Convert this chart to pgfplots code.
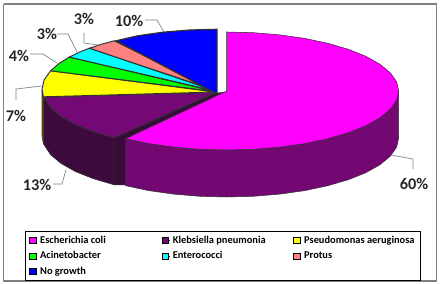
\documentclass[border=0pt]{standalone}
\usepackage{pgfplots}
\pgfplotsset{compat=1.18}
\usepackage{fontspec}
\setmainfont{Carlito}
\definecolor{mg}{HTML}{FF00FF}
\definecolor{mgwall}{HTML}{730873}
\definecolor{pu}{HTML}{740874}
\definecolor{puwall}{HTML}{3E0A3E}
\definecolor{puface}{HTML}{3A0A3A}
\definecolor{ye}{HTML}{FFFF00}
\definecolor{gr}{HTML}{00FF00}
\definecolor{cy}{HTML}{00FFFF}
\definecolor{sa}{HTML}{FF8080}
\definecolor{bl}{HTML}{0000FF}
\definecolor{edge}{HTML}{303030}
\definecolor{lead}{HTML}{808080}
\begin{document}
\begin{tikzpicture}
\useasboundingbox (0,0) rectangle (330pt,213pt);
\begin{axis}[
  scale only axis, width=330pt, height=213pt,
  xmin=0, xmax=440, ymin=0, ymax=284, y dir=reverse,
  hide axis, clip=false,
  legend columns=3,
  legend cell align=left,
  legend style={at={(0.0568,0.1866)}, anchor=north west, draw=black, line width=0.6pt,
    font=\fontsize{7.8}{9}\selectfont\bfseries, inner xsep=2.6pt, inner ysep=1.5pt,
    row sep=0.6pt, /tikz/every even column/.append style={column sep=0pt}},
  legend image code/.code={\path (0pt,0pt) -- (5.6pt,0pt); \draw[#1,draw=black,line width=0.5pt] (0pt,-2.2pt) rectangle (4.8pt,2.4pt);},
]
% walls
\addplot[forget plot, fill=puwall, draw=edge, line width=0.4pt] coordinates {
 (114.1,137.8)(93.3,131.7)(75.4,124.6)(61.1,116.5)(50.6,107.8)(43.4,96.8)
 (43.4,143.8)(50.6,154.8)(61.1,163.5)(75.4,171.6)(93.3,178.7)(114.1,184.8)} --cycle;
\addplot[forget plot, fill=ye!40!black, draw=edge, line width=0.4pt] coordinates {
 (43.4,96.8)(42,89.3)(42,136.3)(43.4,143.8)} --cycle;
\addplot[forget plot, fill=puface, draw=edge, line width=0.4pt] coordinates {
 (114.1,137.8)(214,93.5)(226,92)(226,140)(126,185)(114.1,184.8)} --cycle;
\addplot[forget plot, fill=mgwall, draw=edge, line width=0.4pt] coordinates {
 (398.7,91)(396.6,100.2)(390.3,109.2)(379.9,117.8)(365.8,125.7)(348.3,132.7)(327.8,138.7)(304.8,143.6)
 (279.8,147.1)(253.5,149.3)(226.7,150)(199.9,149.3)(173.6,147.1)(148.6,143.6)(125.6,138.7)
 (125.6,185.7)(148.6,190.6)(173.6,194.1)(199.9,196.3)(226.7,197)(253.5,196.3)(279.8,194.1)(304.8,190.6)
 (327.8,185.7)(348.3,179.7)(365.8,172.7)(379.9,164.8)(390.3,156.2)(396.6,147.2)(398.7,138)} --cycle;
% tops: 60, 13, 7, 4, 3, 3, 10 per cent
\addplot[fill=mg, draw=edge, line width=0.4pt] coordinates {
 (226.7,91)(226.7,32)(253.5,32.7)(279.8,34.9)(304.8,38.4)(327.8,43.3)(348.3,49.3)(365.8,56.3)(379.9,64.2)
 (390.3,72.8)(396.6,81.8)(398.7,91)(396.6,100.2)(390.3,109.2)(379.9,117.8)(365.8,125.7)(348.3,132.7)
 (327.8,138.7)(304.8,143.6)(279.8,147.1)(253.5,149.3)(226.7,150)(199.9,149.3)(173.6,147.1)(148.6,143.6)(125.6,138.7)} --cycle;
\addlegendentry{\makebox[89.2pt][l]{Escherichia coli}}
\addplot[fill=pu, draw=edge, line width=0.6pt] coordinates {
 (215,92.5)(114.1,137.8)(93.3,131.7)(75.4,124.6)(61.1,116.5)(50.6,107.8)(43.4,96.8)} --cycle;
\addlegendentry{\makebox[88.2pt][l]{Klebsiella pneumonia}}
\addplot[fill=ye, draw=edge, line width=0.7pt] coordinates {
 (215,92)(43.4,96.8)(42,89.3)(44.1,79.9)(50.6,70.8)} --cycle;
\addlegendentry{Pseudomonas aeruginosa}
\addplot[fill=gr, draw=edge, line width=0.7pt] coordinates {
 (215,91.5)(50.6,70.8)(58.5,63.9)(69.3,57.1)} --cycle;
\addlegendentry{Acinetobacter}
\addplot[fill=cy, draw=edge, line width=0.7pt] coordinates {
 (215.5,91)(69.3,57.1)(79.1,52.3)(89.4,48.2)} --cycle;
\addlegendentry{Enterococci}
\addplot[fill=sa, draw=edge, line width=0.7pt] coordinates {
 (216,90.5)(89.4,48.2)(101.3,44.3)(114.1,40.8)} --cycle;
\addlegendentry{Protus}
\addplot[fill=bl, draw=edge, line width=0.9pt] coordinates {
 (217,94)(116,40.8)(137.6,35.8)(162.9,32.2)(189.7,30)(217,29.3)} --cycle;
\addlegendentry{No growth}
% leaders
\foreach \p in {
 {(391,155)(413,159)(413,169)},
 {(53,184)(62,184)(66,170)},
 {(16,100)(16,89)(41.7,86)},
 {(30,54)(43,54)(57,63)},
 {(57,34)(68,34)(77,52)},
 {(84,33)(84,43)(98,45)},
 {(145,20)(157,20)(164,32)}} {
  \edef\temp{\noexpand\addplot[forget plot, draw=lead, line width=0.5pt] coordinates {\p};}\temp
}
\addplot[forget plot, draw=lead, line width=1.1pt, dash pattern=on 1.2pt off 0.3pt] coordinates {(3.5,4)(436.5,4)(436.5,281)(3.5,281)} --cycle;
\newcommand{\lab}[3]{\node[font=\fontsize{12.2}{14}\selectfont\bfseries, text=black!85] at (axis cs:#1,#2) {#3\%};}
\lab{414}{184}{60}
\lab{37}{185}{13}
\lab{16}{116}{7}
\lab{19}{56}{4}
\lab{47}{34}{3}
\lab{84}{19}{3}
\lab{129}{21}{10}
\end{axis}
\end{tikzpicture}
\end{document}
